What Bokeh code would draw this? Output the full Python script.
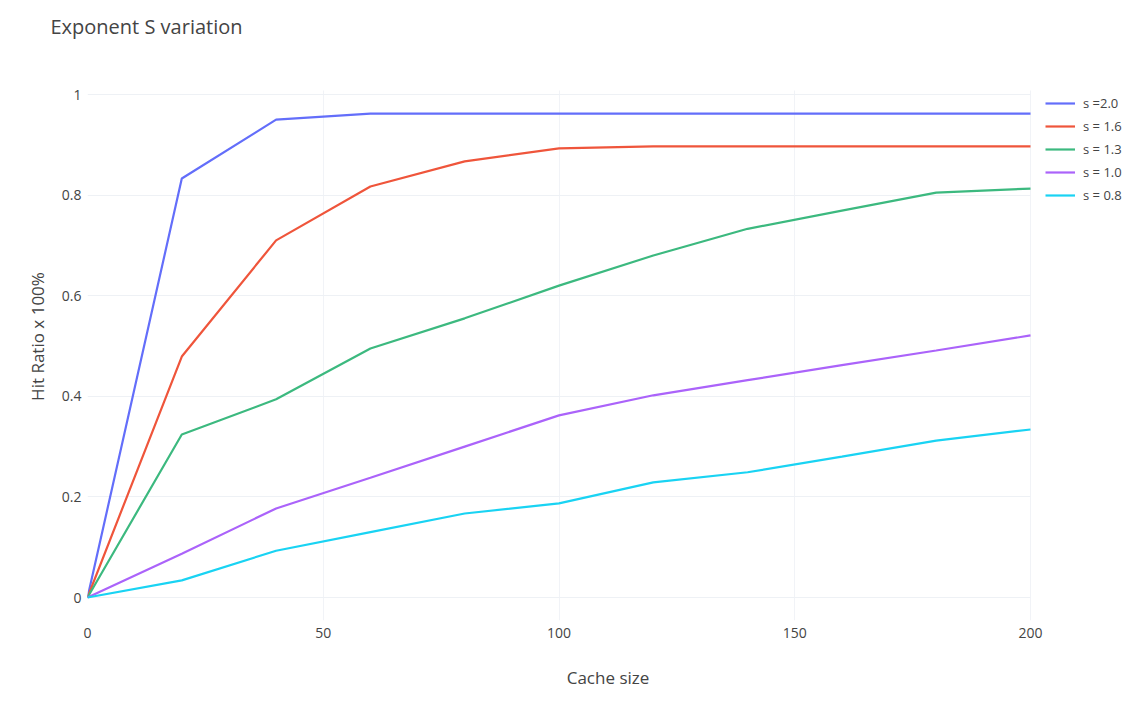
from bokeh.plotting import figure
from bokeh.models import Legend, LegendItem, FixedTicker, Range1d
from bokeh.embed import file_html
from bokeh.resources import INLINE

# ---- data ----
cache_size = [0, 20, 40, 60, 80, 100, 120, 140, 160, 180, 200]
s_2_0 = [0, 0.833, 0.950, 0.962, 0.962, 0.962, 0.962, 0.962, 0.962, 0.962, 0.962]
s_1_6 = [0, 0.479, 0.710, 0.817, 0.867, 0.893, 0.897, 0.897, 0.897, 0.897, 0.897]
s_1_3 = [0, 0.324, 0.394, 0.495, 0.555, 0.620, 0.680, 0.733, 0.769, 0.805, 0.813]
s_1_0 = [0, 0.087, 0.177, 0.238, 0.300, 0.362, 0.402, 0.432, 0.462, 0.491, 0.521]
s_0_8 = [0, 0.034, 0.093, 0.130, 0.167, 0.187, 0.229, 0.249, 0.280, 0.312, 0.334]
series_names = ["s =2.0", "s = 1.6", "s = 1.3", "s = 1.0", "s = 0.8"]
series_values = [s_2_0, s_1_6, s_1_3, s_1_0, s_0_8]
series_colors = ["#636efa", "#EF553B", "#3cb97f", "#ab63fa", "#19d3f3"]
x_ticks = [0, 50, 100, 150, 200]
y_ticks = [0, 0.2, 0.4, 0.6, 0.8, 1]
y_tick_labels = ["0", "0.2", "0.4", "0.6", "0.8", "1"]
title_text = "Exponent S variation"

FONT = "Open Sans"
TXT = "#444444"

W, H = 1128, 705
BL, BR, BT, BB = 87, 0, 52, 85
FW, FH = W - BL - BR, H - BT - BB
PX_PER_X = 943 / 200.0          # data area spans 0..200 over 943 px
PX_PER_Y = 503.0                # 0..1 spans 503 px
x_end = FW / PX_PER_X           # extra room on the right holds the legend
y_lo = -23 / PX_PER_Y
y_hi = 1 + 42 / PX_PER_Y        # extra room on top keeps axis title centred like the reference

p = figure(width=W, height=H, output_backend="svg", toolbar_location=None,
           x_range=Range1d(0, x_end), y_range=Range1d(y_lo, y_hi),
           min_border_left=BL, min_border_right=BR, min_border_bottom=BB,
           min_border_top=BT)

p.title.text = title_text
p.title.text_font = FONT
p.title.text_font_size = "20px"
p.title.text_font_style = "normal"
p.title.text_color = TXT
p.title.align = "left"
p.title.offset = -37
p.title.vertical_align = "top"
p.title.standoff = 21

renderers = []
for name, vals, col in zip(series_names, series_values, series_colors):
    r = p.line(cache_size, vals, line_color=col, line_width=2.2)
    renderers.append((name, r))

legend = Legend(items=[LegendItem(label=n, renderers=[r]) for n, r in renderers],
                location=(958, FH - 41 - 112), glyph_width=30, glyph_height=20,
                label_height=20, spacing=3, label_standoff=8,
                padding=0, margin=0, border_line_color=None,
                background_fill_alpha=0, label_text_font=FONT,
                label_text_font_size="13px", label_text_color=TXT)
p.add_layout(legend)

p.outline_line_color = None
p.background_fill_color = "white"

for ax in (p.xaxis, p.yaxis):
    ax.axis_line_color = None
    ax.major_tick_line_color = None
    ax.minor_tick_line_color = None
    ax.major_label_text_font = FONT
    ax.major_label_text_font_size = "14px"
    ax.major_label_text_color = TXT
    ax.axis_label_text_font = FONT
    ax.axis_label_text_font_size = "17px"
    ax.axis_label_text_font_style = "normal"
    ax.axis_label_text_color = TXT

p.xaxis.ticker = FixedTicker(ticks=x_ticks)
p.yaxis.ticker = FixedTicker(ticks=y_ticks)
p.yaxis.major_label_overrides = {t: l for t, l in zip(y_ticks, y_tick_labels)}
p.xaxis.axis_label = "Cache size"
p.yaxis.axis_label = "Hit Ratio x 100%"
p.xaxis.major_label_standoff = 1
p.xaxis.axis_label_standoff = 25
p.yaxis.major_label_standoff = 0
p.yaxis.axis_label_standoff = 10

p.xgrid.grid_line_color = "#f1f3f7"
p.ygrid.grid_line_color = "#eef1f5"
p.xgrid.grid_line_width = 1
p.ygrid.grid_line_width = 1
if "cross_bounds" in p.ygrid[0].properties():
    p.ygrid.cross_bounds = (0, 200)
    p.xgrid.cross_bounds = (y_lo, 1.008)

open("out.html", "w").write(file_html(p, INLINE))
